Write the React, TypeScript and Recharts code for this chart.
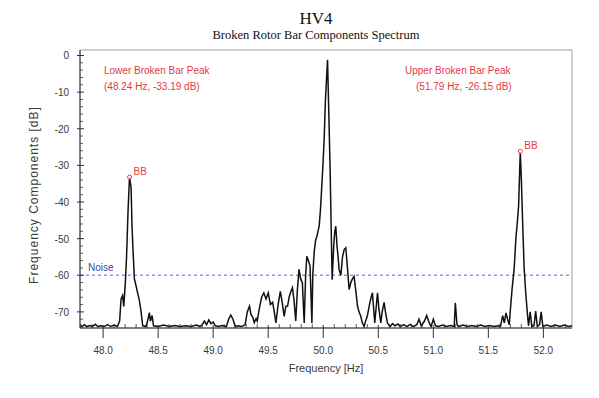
import React from "react";
import {
  LineChart,
  Line,
  XAxis,
  YAxis,
  ReferenceLine,
  ReferenceDot,
  ReferenceArea,
} from "recharts";

// ─── Data ─────────────────────────────────────────────────────────────────────

const FREQ_HZ: number[] = [
  47.79, 47.81, 47.83, 47.85, 47.88, 47.9, 47.93, 47.95, 47.98, 48.01, 48.04, 48.07, 48.1, 48.13,
  48.15, 48.163, 48.177, 48.188, 48.202, 48.213, 48.227, 48.24, 48.254, 48.262, 48.27, 48.284,
  48.3, 48.315, 48.33, 48.345, 48.36, 48.39, 48.408, 48.42, 48.43, 48.445, 48.458, 48.5, 48.55,
  48.6, 48.65, 48.7, 48.75, 48.8, 48.85, 48.88, 48.9, 48.92, 48.94, 48.96, 48.98, 49.0, 49.02,
  49.05, 49.08, 49.12, 49.14, 49.16, 49.18, 49.2, 49.23, 49.26, 49.29, 49.31, 49.33, 49.343,
  49.36, 49.373, 49.39, 49.4, 49.42, 49.44, 49.46, 49.48, 49.5, 49.52, 49.54, 49.555, 49.57,
  49.59, 49.61, 49.625, 49.645, 49.66, 49.676, 49.69, 49.705, 49.72, 49.735, 49.75, 49.765,
  49.78, 49.795, 49.81, 49.827, 49.84, 49.851, 49.865, 49.88, 49.897, 49.905, 49.917, 49.93,
  49.942, 49.952, 49.963, 49.975, 49.985, 49.997, 50.008, 50.02, 50.039, 50.05, 50.063, 50.072,
  50.081, 50.095, 50.105, 50.114, 50.125, 50.135, 50.144, 50.16, 50.175, 50.19, 50.205, 50.22,
  50.235, 50.25, 50.265, 50.28, 50.295, 50.311, 50.325, 50.341, 50.355, 50.371, 50.385, 50.4,
  50.42, 50.435, 50.447, 50.46, 50.468, 50.48, 50.493, 50.505, 50.523, 50.535, 50.553, 50.565,
  50.583, 50.607, 50.63, 50.65, 50.68, 50.7, 50.73, 50.76, 50.79, 50.82, 50.85, 50.87, 50.89,
  50.92, 50.94, 50.96, 50.98, 51.0, 51.02, 51.05, 51.08, 51.12, 51.16, 51.19, 51.2, 51.215,
  51.23, 51.27, 51.31, 51.35, 51.39, 51.43, 51.47, 51.51, 51.55, 51.59, 51.61, 51.63, 51.645,
  51.66, 51.675, 51.69, 51.7, 51.715, 51.735, 51.75, 51.765, 51.775, 51.79, 51.8, 51.81, 51.825,
  51.84, 51.855, 51.865, 51.88, 51.895, 51.915, 51.93, 51.945, 51.965, 51.98, 51.995, 52.03,
  52.07, 52.11, 52.15, 52.19, 52.23, 52.26,
];

const LEVEL_DB: number[] = [
  -73.6, -74.0, -73.5, -74.0, -73.7, -74.0, -73.4, -74.0, -73.8, -74.0, -73.5, -74.0, -73.6, -74.0,
  -72.5, -66.5, -65.5, -68.5, -62, -55, -42, -33.2, -36, -46, -52, -61,
  -63, -65, -67, -70, -73.8, -74, -72, -70.2, -72.5, -71, -73.8, -74, -73.6,
  -74, -73.7, -74, -73.8, -74, -73.6, -74, -73.5, -72.5, -73.5, -72.2, -73.2, -72.8, -73.8,
  -74, -73.7, -74, -72, -70.9, -72, -74, -73.8, -74, -73.5, -70, -68.4, -70.7,
  -71.5, -72.9, -71.8, -72.5, -69, -66, -64.8, -66.5, -64.8, -68, -67.4, -70, -73,
  -68, -64.4, -67, -71.2, -68.5, -68.4, -66, -64.5, -63.4, -67, -72.5, -64,
  -58.4, -61, -62, -73, -60, -54.8, -56, -57.5, -73, -60, -53.9, -50.5,
  -49.4, -48, -46.6, -42, -36.6, -30, -23, -12, -1.2, -15, -32, -47,
  -61.2, -52, -48, -46.6, -52, -55, -58.4, -60, -55, -53, -52.5, -58,
  -63.9, -62, -61, -60.3, -64, -68.4, -70, -71.2, -73, -74, -72.5, -71.2,
  -68, -66, -64.8, -70, -73, -69, -64.8, -69, -73, -70, -67.4, -70,
  -73, -74, -73.2, -73.8, -73.3, -74, -73.5, -74, -73.4, -74, -73.5, -72, -73.8,
  -72.5, -71, -72.8, -74, -72, -73.8, -74, -73.6, -74, -73.7, -74, -67.5, -73.5,
  -74, -73.6, -74, -73.7, -74, -73.6, -74, -73.7, -74, -73.8, -74, -71, -73,
  -70.3, -72, -73.5, -69.5, -64, -58, -50, -45, -41, -26.2, -34, -44, -58,
  -65, -70.5, -73.8, -70, -74, -73.8, -69.8, -74, -73.5, -70, -74, -73.6,
  -74, -73.6, -74, -73.6, -74, -73.8,
];

const X_DOMAIN: [number, number] = [47.79, 52.26];
const Y_DOMAIN: [number, number] = [-74.4, 1.5];
const Y_LABELS = [0, -10, -20, -30, -40, -50, -60, -70];
const NOISE_DB = -60;
const LOWER_PEAK = { f: 48.24, db: -33.19 };
const UPPER_PEAK = { f: 51.79, db: -26.15 };

const data = FREQ_HZ.map((f, i) => ({ f, db: LEVEL_DB[i] }));

// minor ticks: every 0.1 Hz and every 2 dB
const X_TICKS: number[] = [];
for (let i = 478; i <= 522; i++) X_TICKS.push(i / 10);
const Y_TICKS: number[] = [];
for (let v = -74; v <= 0; v += 2) Y_TICKS.push(v);

// ─── Styles ───────────────────────────────────────────────────────────────────

const SANS = "'Liberation Sans', Arial, sans-serif";
const SERIF = "'Liberation Serif', 'Times New Roman', serif";
const RED = "#e23a44";
const AXIS_COLOR = "#333";
const TICK_TEXT = "#3a3a3a";

function XTick(props: any) {
  const { x, y, payload } = props;
  const v = payload.value as number;
  const major = Math.abs(v * 2 - Math.round(v * 2)) < 1e-6;
  if (!major) {
    return <line x1={x} x2={x} y1={y} y2={y - 4} stroke={AXIS_COLOR} strokeWidth={0.8} />;
  }
  return (
    <g>
      <line x1={x} x2={x} y1={y - 3} y2={y + 10} stroke={AXIS_COLOR} strokeWidth={1} />
      <text x={x} y={y + 26} textAnchor="middle" fontFamily={SANS} fontSize={10} fill={TICK_TEXT}>
        {v.toFixed(1)}
      </text>
    </g>
  );
}

function YTick(props: any) {
  const { x, y, payload } = props;
  const v = payload.value as number;
  if (!Y_LABELS.includes(v)) {
    return <line x1={x} x2={x + 3} y1={y} y2={y} stroke={AXIS_COLOR} strokeWidth={0.8} />;
  }
  return (
    <g>
      <line x1={x - 3} x2={x + 4} y1={y} y2={y} stroke={AXIS_COLOR} strokeWidth={1} />
      <text x={x - 11} y={y + 4} textAnchor="end" fontFamily={SANS} fontSize={10} fill={TICK_TEXT}>
        {v}
      </text>
    </g>
  );
}

function BBLabel(props: any) {
  const { viewBox } = props;
  const cx = viewBox.x + viewBox.width / 2;
  const cy = viewBox.y + viewBox.height / 2;
  return (
    <text x={cx + 4} y={cy - 2} fontFamily={SANS} fontSize={10} fill={RED}>
      BB
    </text>
  );
}

const annot: React.CSSProperties = {
  position: "absolute",
  fontFamily: SANS,
  fontSize: 10,
  color: RED,
  whiteSpace: "nowrap",
  lineHeight: "12px",
};

export default function App() {
  return (
    <div style={{ position: "absolute", left: 0, top: 0, width: 599, height: 398, background: "#fff" }}>
      <div
        style={{
          position: "absolute",
          left: 0,
          width: 632,
          top: 9,
          textAlign: "center",
          fontFamily: SERIF,
          fontSize: 17,
          color: "#111",
          lineHeight: "20px",
        }}
      >
        HV4
      </div>
      <div
        style={{
          position: "absolute",
          left: 0,
          width: 632,
          top: 28,
          textAlign: "center",
          fontFamily: SERIF,
          fontSize: 12.5,
          color: "#111",
          lineHeight: "14px",
        }}
      >
        Broken Rotor Bar Components Spectrum
      </div>

      <LineChart
        width={599}
        height={398}
        data={data}
        margin={{ top: 50, right: 27, bottom: 30, left: 0 }}
      >
        <ReferenceArea
          x1={X_DOMAIN[0]}
          x2={X_DOMAIN[1]}
          y1={Y_DOMAIN[0]}
          y2={Y_DOMAIN[1]}
          fill="none"
          stroke="#a0a0a0"
          strokeWidth={1}
        />
        <XAxis
          type="number"
          dataKey="f"
          domain={X_DOMAIN}
          allowDataOverflow
          ticks={X_TICKS}
          interval={0}
          tick={<XTick />}
          tickSize={0}
          tickMargin={0}
          height={40}
          stroke={AXIS_COLOR}
          label={(p: any) => (
            <text
              x={p.viewBox.x + p.viewBox.width / 2}
              y={p.viewBox.y + 44}
              textAnchor="middle"
              fontFamily={SANS}
              fontSize={11}
              fill={TICK_TEXT}
            >
              Frequency [Hz]
            </text>
          )}
        />
        <YAxis
          type="number"
          domain={Y_DOMAIN}
          allowDataOverflow
          ticks={Y_TICKS}
          interval={0}
          tick={<YTick />}
          tickSize={0}
          tickMargin={0}
          width={80}
          stroke={AXIS_COLOR}
          label={(p: any) => {
            const cx = 38;
            const cy = p.viewBox.y + p.viewBox.height / 2 + 6;
            return (
              <text
                x={cx}
                y={cy}
                textAnchor="middle"
                transform={`rotate(-90 ${cx} ${cy})`}
                fontFamily={SANS}
                fontSize={12}
                letterSpacing={1}
                fill={TICK_TEXT}
              >
                Frequency Components [dB]
              </text>
            );
          }}
        />
        <ReferenceLine
          y={NOISE_DB}
          stroke="#8a98d8"
          strokeWidth={1.3}
          strokeDasharray="3 3"
          label={(p: any) => (
            <text x={p.viewBox.x + 8} y={p.viewBox.y - 4} fontFamily={SANS} fontSize={10} fill="#3848b0">
              Noise
            </text>
          )}
        />
        <Line
          type="linear"
          dataKey="db"
          stroke="#111"
          strokeWidth={1.5}
          dot={false}
          isAnimationActive={false}
        />
        <ReferenceDot
          x={LOWER_PEAK.f}
          y={LOWER_PEAK.db}
          r={2}
          fill="#fff"
          stroke={RED}
          strokeWidth={1}
          label={<BBLabel />}
        />
        <ReferenceDot
          x={UPPER_PEAK.f}
          y={UPPER_PEAK.db}
          r={2}
          fill="#fff"
          stroke={RED}
          strokeWidth={1}
          label={<BBLabel />}
        />
      </LineChart>

      <div style={{ ...annot, left: 104, top: 65 }}>Lower Broken Bar Peak</div>
      <div style={{ ...annot, left: 104, top: 81 }}>
        ({LOWER_PEAK.f} Hz, {LOWER_PEAK.db} dB)
      </div>
      <div style={{ ...annot, left: 405, top: 65 }}>Upper Broken Bar Peak</div>
      <div style={{ ...annot, left: 416, top: 81 }}>
        ({UPPER_PEAK.f} Hz, {UPPER_PEAK.db} dB)
      </div>
    </div>
  );
}
